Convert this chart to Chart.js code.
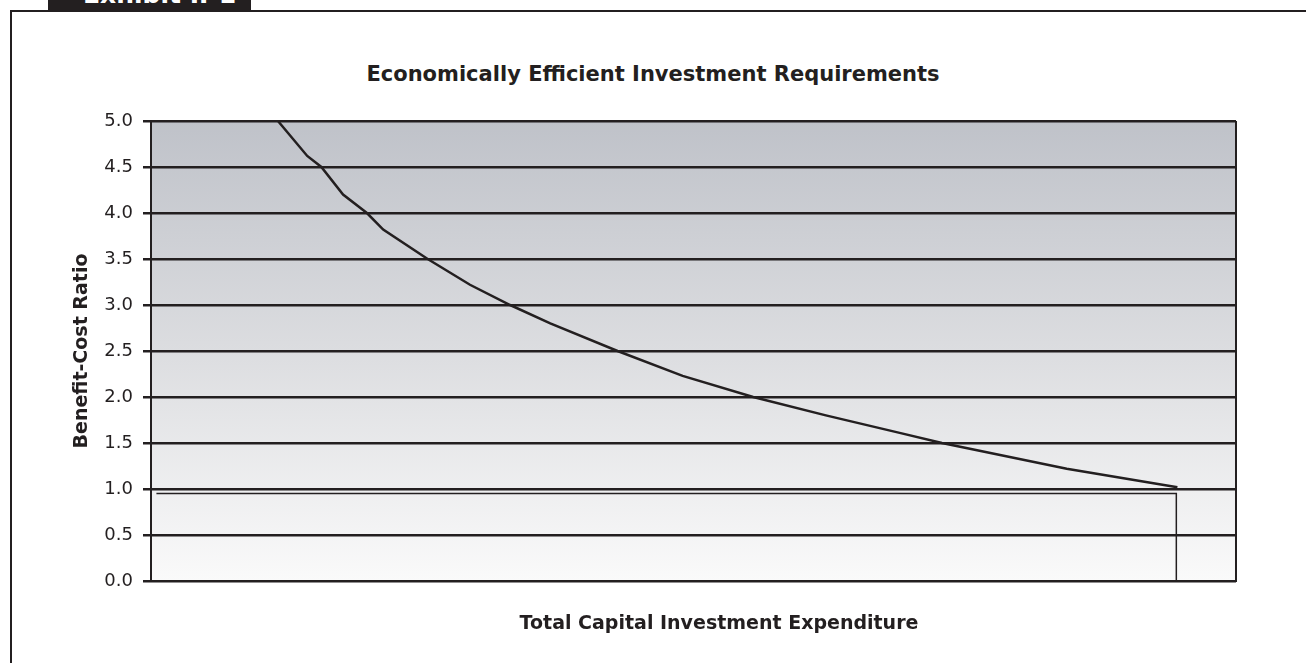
<!DOCTYPE html>
<html>
<head>
<meta charset="utf-8">
<script src="https://cdn.jsdelivr.net/npm/chart.js@4.4.1/dist/chart.umd.min.js"></script>
<style>
  body { margin: 0; background: #fff; width: 1306px; height: 663px; overflow: hidden; position: relative; font-family: "DejaVu Sans", sans-serif; }
  #frame { position: absolute; left: 10px; top: 10px; width: 1400px; height: 700px; border-left: 2px solid #231f20; border-top: 2px solid #231f20; }
  #tab { position: absolute; left: 48px; top: 0; width: 203px; height: 11px; background: #231f20; overflow: hidden; }
  #tab span { position: absolute; left: 35px; top: -18px; font-weight: bold; font-size: 25px; line-height: 25px; color: #fff; white-space: nowrap; }
  #wrap { position: absolute; left: 0; top: 0; width: 1306px; height: 663px; }
  #mainTitle { position: absolute; left: 253px; width: 800px; top: 64px; text-align: center; font-weight: bold; font-size: 21px; line-height: 21px; color: #231f20; }
  #xTitle { position: absolute; left: 419px; width: 600px; top: 613px; text-align: center; font-weight: bold; font-size: 19px; line-height: 19px; color: #231f20; }
</style>
</head>
<body>
<div id="frame"></div>
<div id="tab"><span>Exhibit II-1</span></div>
<div id="mainTitle">Economically Efficient Investment Requirements</div>
<div id="wrap"><canvas id="bcChart" width="1306" height="663"></canvas></div>
<div id="xTitle">Total Capital Investment Expenditure</div>
<script>
// curve (x: share of investment axis, 0-100)
var curveX = [11.7, 14.4, 15.7, 17.7, 19.9, 21.4, 25.5, 29.4, 33.1, 36.8, 43.0, 49.0, 55.5, 62.2, 69.0, 72.9, 84.4, 94.6];
var curveY = [5.0, 4.62, 4.5, 4.2, 4.0, 3.82, 3.5, 3.22, 3.0, 2.8, 2.5, 2.23, 2.0, 1.8, 1.61, 1.5, 1.22, 1.02];

// cut-off box at B/C just under 1.0
var boxX = [0.5, 94.5, 94.5];
var boxY = [0.95, 0.95, 0];

var yMin = 0, yMax = 5, yStep = 0.5;
var xMin = 0, xMax = 100;

var ink = '#231f20';

function toPoints(xs, ys) {
  return xs.map(function (x, i) { return { x: x, y: ys[i] }; });
}

// gradient behind the plot
var plotBackground = {
  id: 'plotBackground',
  beforeDraw: function (chart) {
    var a = chart.chartArea, ctx = chart.ctx;
    var g = ctx.createLinearGradient(0, a.top, 0, a.bottom);
    g.addColorStop(0, '#bfc2c9');
    g.addColorStop(0.5, '#dcdde0');
    g.addColorStop(1, '#fafafa');
    ctx.save();
    ctx.fillStyle = g;
    ctx.fillRect(a.left, a.top, a.right - a.left, a.bottom - a.top);
    ctx.restore();
  }
};

new Chart(document.getElementById('bcChart'), {
  type: 'line',
  data: {
    datasets: [
      {
        data: toPoints(curveX, curveY),
        borderColor: ink,
        borderWidth: 2.5,
        pointRadius: 0,
        tension: 0,
        fill: false
      },
      {
        data: toPoints(boxX, boxY),
        borderColor: ink,
        borderWidth: 1.5,
        pointRadius: 0,
        tension: 0,
        fill: false
      }
    ]
  },
  options: {
    responsive: false,
    animation: false,
    devicePixelRatio: 1,
    layout: { padding: { left: 0, top: 121, right: 70, bottom: 82 } },
    plugins: {
      legend: { display: false },
      tooltip: { enabled: false }
    },
    scales: {
      x: {
        type: 'linear',
        min: xMin,
        max: xMax,
        ticks: { display: false, stepSize: 10 },
        grid: {
          drawTicks: false,
          lineWidth: 2,
          color: function (c) { return c.tick && c.tick.value === xMax ? ink : 'rgba(0,0,0,0)'; }
        },
        border: { display: true, color: ink, width: 2 },
        afterFit: function (s) { s.height = 0; }
      },
      y: {
        min: yMin,
        max: yMax,
        ticks: {
          stepSize: yStep,
          padding: 10,
          color: ink,
          font: { family: 'DejaVu Sans', size: 18 },
          callback: function (v) { return v.toFixed(1); }
        },
        grid: { color: ink, lineWidth: 2.5, tickLength: 8 },
        border: { display: true, color: ink, width: 2 },
        title: {
          display: true,
          text: 'Benefit-Cost Ratio',
          color: ink,
          font: { family: 'DejaVu Sans', size: 19, weight: 'bold' },
          padding: { top: 71, bottom: 0 }
        },
        afterFit: function (s) { s.width = 151; }
      }
    }
  },
  plugins: [plotBackground]
});
</script>
</body>
</html>
